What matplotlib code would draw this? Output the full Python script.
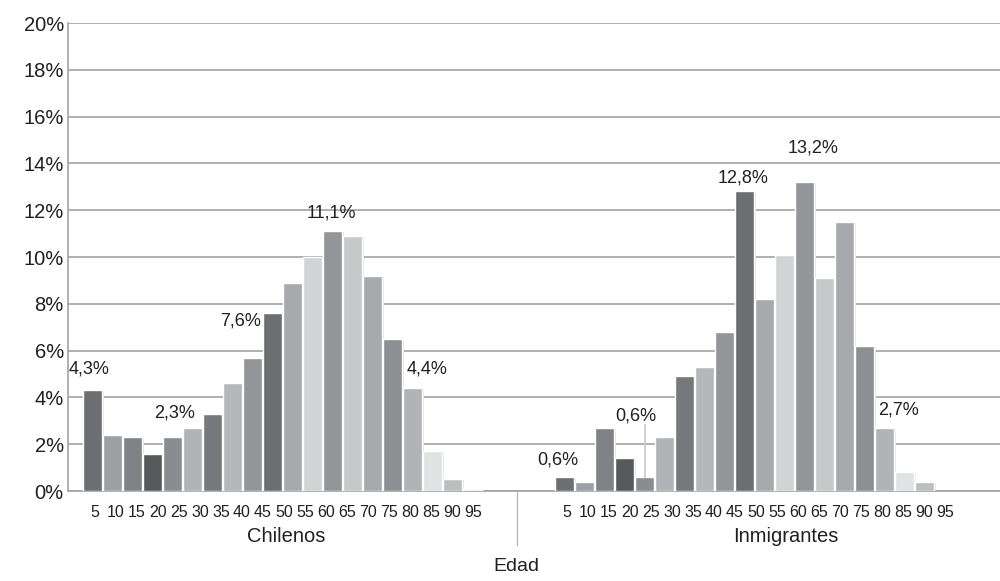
import matplotlib
matplotlib.use("Agg")
import matplotlib.pyplot as plt
import numpy as np

plt.rcParams['font.family'] = ['Liberation Sans', 'DejaVu Sans']

# datos (% por tramo de edad)
edades = ["5", "10", "15", "20", "25", "30", "35", "40", "45", "50",
          "55", "60", "65", "70", "75", "80", "85", "90", "95"]
chilenos = [4.3, 2.4, 2.3, 1.6, 2.3, 2.7, 3.3, 4.6, 5.7, 7.6,
            8.9, 10.0, 11.1, 10.9, 9.2, 6.5, 4.4, 1.7, 0.5, 0.1]
inmigrantes = [0.6, 0.4, 2.7, 1.4, 0.6, 2.3, 4.9, 5.3, 6.8, 12.8,
               8.2, 10.1, 13.2, 9.1, 11.5, 6.2, 2.7, 0.8, 0.4]
grupos = ["Chilenos", "Inmigrantes"]

# paleta de grises, se repite en ambos grupos
grises = ["#6d6e71", "#9d9fa2", "#808285", "#58595b", "#8a8c8f",
          "#b1b3b6", "#77787b", "#b4b6b9", "#939598", "#6d6e71",
          "#a7a9ac", "#d1d3d4", "#939598", "#c7c8ca", "#a7a9ac",
          "#8d8f92", "#b1b3b6", "#e1e2e3", "#bcbec0", "#e6e7e8"]

# etiquetas de valor: (grupo, indice, dx, dy)
etiquetas = [(0, 0, -0.18, 0.9), (0, 4, 0.08, 1.03), (0, 9, -1.6, -0.34),
             (0, 12, -0.08, 0.78), (0, 16, 0.73, 0.81),
             (1, 0, -0.33, 0.72), (1, 4, -0.43, 2.6), (1, 9, -0.08, 0.58),
             (1, 12, 0.43, 1.46), (1, 16, 0.68, 0.76)]

texto = "#231f20"
linea = "#a3a3a5"

fig = plt.figure(figsize=(10, 5.81), dpi=100)
ax = fig.add_axes([0.068, 0.1549, 0.932, 0.8055])

inicio = [0.0, 23.6]
centro_grupo = [9.7, 11.07]
series = [chilenos, inmigrantes]
for g, vals in enumerate(series):
    x = inicio[g] + np.arange(len(vals))
    # sombra suave a la derecha de cada barra
    ax.bar(x + 0.08, np.array(vals) - 0.05, width=0.96, color="#e4e4e4",
           linewidth=0, zorder=2)
    ax.bar(x, vals, width=0.96, color=grises[:len(vals)],
           edgecolor="white", linewidth=1.0, zorder=3)
    # etiquetas del eje x (espaciado un poco mayor que las barras)
    xl = inicio[g] + 0.125 + 1.05 * np.arange(len(edades))
    for xi, lab in zip(xl, edades):
        ax.text(xi, -0.047, lab, transform=ax.get_xaxis_transform(),
                ha="center", va="center", fontsize=11.5, color=texto)
    ax.text(inicio[g] + centro_grupo[g], -0.098, grupos[g],
            transform=ax.get_xaxis_transform(), ha="center", va="center",
            fontsize=14.5, color=texto)

for g, i, dx, dy in etiquetas:
    v = series[g][i]
    xb = inicio[g] + i
    ax.text(xb + dx, v + dy, f"{v:.1f}%".replace(".", ","), ha="center",
            va="center", fontsize=13, color=texto, zorder=5)
    if dy > 2:
        ax.plot([xb, xb], [v, v + dy - 0.38], color="#c8c8c8", lw=1.2, zorder=4)

# separador entre grupos
ax.plot([21.225, 21.225], [0, -0.115], transform=ax.get_xaxis_transform(),
        color="#b8b8b8", lw=1, clip_on=False)
ax.text(21.175, -0.162, "Edad", transform=ax.get_xaxis_transform(),
        ha="center", va="center", fontsize=14, color=texto)

ax.set_xlim(-1.225, 45.375)
ax.set_ylim(0, 20)
ax.set_yticks(np.arange(0, 21, 2))
ax.set_yticklabels([f"{t}%" for t in range(0, 21, 2)], fontsize=14.5, color=texto)
ax.tick_params(axis="y", length=0, pad=3)
ax.set_xticks([])
ax.yaxis.grid(True, color=linea, lw=1.2, zorder=0)
ax.set_axisbelow(True)
for s in ["top", "right"]:
    ax.spines[s].set_visible(False)
ax.spines["left"].set_color(linea)
ax.spines["bottom"].set_color(linea)
ax.spines["left"].set_linewidth(1.2)
ax.spines["bottom"].set_linewidth(1.2)

fig.savefig("out.png", dpi=100)
